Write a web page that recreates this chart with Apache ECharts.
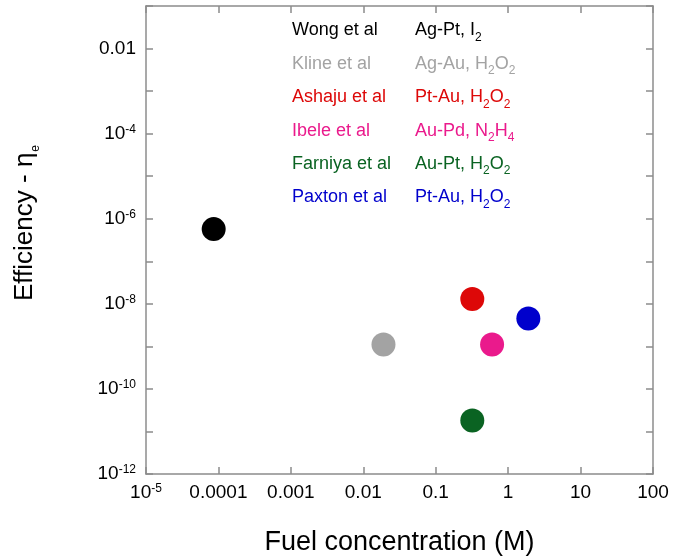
<!DOCTYPE html>
<html>
<head>
<meta charset="utf-8">
<script src="https://cdn.jsdelivr.net/npm/echarts@6/dist/echarts.min.js"></script>
<style>
html, body { margin: 0; padding: 0; background: #fff; }
#main { width: 673px; height: 558px; }
</style>
</head>
<body>
<div id="main"></div>
<script>
var authors = ['Wong et al', 'Kline et al', 'Ashaju et al', 'Ibele et al', 'Farniya et al', 'Paxton et al'];
var systems = ['Ag-Pt, I2', 'Ag-Au, H2O2', 'Pt-Au, H2O2', 'Au-Pd, N2H4', 'Au-Pt, H2O2', 'Pt-Au, H2O2'];
var fuel = [0.000086, 0.019, 0.32, 0.6, 0.32, 1.9];
var efficiency = [5.7e-7, 1.1e-9, 1.3e-8, 1.1e-9, 1.8e-11, 4.5e-9];
var colors = ['#000000', '#a3a3a3', '#dd0808', '#ea1a8c', '#0a6322', '#0000cc'];

var xTickExp = [-5, -4, -3, -2, -1, 0, 1, 2];
var xTickText = ['10^-5', '0.0001', '0.001', '0.01', '0.1', '1', '10', '100'];
var yTickExp = [-12, -10, -8, -6, -4, -2];
var yTickText = ['10^-12', '10^-10', '10^-8', '10^-6', '10^-4', '0.01'];

var FONT = 'Liberation Sans, Arial, sans-serif';
var AXIS = '#8c8c8c';

// "10^-5" -> rich text with superscript
function toRich(t) {
	var k = t.indexOf('^');
	if (k < 0) return '{b|' + t + '}';
	return '{b|' + t.slice(0, k) + '}{s|' + t.slice(k + 1) + '}';
}
// chemical formula digits as subscripts
function chem(t) {
	return t.replace(/([^0-9]+)|([0-9]+)/g, function (m, a, d) {
		return a ? '{m|' + a + '}' : '{s|' + d + '}';
	});
}

function labelFor(exps, texts) {
	return function (v) {
		var e = Math.round(Math.log10(v));
		var i = exps.indexOf(e);
		return i < 0 ? '' : toRich(texts[i]);
	};
}

var labelRich = {
	b: { fontFamily: FONT, fontSize: 19, color: '#000', lineHeight: 20, padding: [3, 0, 3, 0] },
	s: { fontFamily: FONT, fontSize: 12, color: '#000', lineHeight: 12, verticalAlign: 'top' }
};

function tickStyle() {
	return { show: true, inside: true, length: 7, lineStyle: { color: AXIS, width: 1.5 } };
}
function lineStyle() {
	return { show: true, onZero: false, lineStyle: { color: AXIS, width: 1.5 } };
}

var myChart = echarts.init(document.getElementById('main'));

var graphics = [];
for (var i = 0; i < authors.length; ++i) {
	var rowTop = 32 + 33.4 * i - 10.6;
	graphics.push({
		type: 'text', x: 292, y: rowTop,
		style: {
			text: '{m|' + authors[i] + '}', align: 'left', verticalAlign: 'top',
			rich: { m: { fontFamily: FONT, fontSize: 18, lineHeight: 22, verticalAlign: 'top', fill: colors[i] } }
		}
	});
	graphics.push({
		type: 'text', x: 415, y: rowTop,
		style: {
			text: chem(systems[i]), align: 'left', verticalAlign: 'top',
			rich: {
				m: { fontFamily: FONT, fontSize: 18, lineHeight: 22, verticalAlign: 'top', fill: colors[i] },
				s: { fontFamily: FONT, fontSize: 12, lineHeight: 12, verticalAlign: 'bottom', padding: [15, 0, 0, 0], fill: colors[i] }
			}
		}
	});
}
graphics.push({
	type: 'text', x: 27, y: 223, rotation: Math.PI / 2,
	style: {
		text: '{m|Efficiency - \u03b7}{e|e}', align: 'center', verticalAlign: 'middle',
		rich: {
			m: { fontFamily: FONT, fontSize: 26, lineHeight: 30, verticalAlign: 'top', fill: '#000' },
			e: { fontFamily: FONT, fontSize: 12, lineHeight: 12, verticalAlign: 'bottom', padding: [29, 0, 0, 1], fill: '#000' }
		}
	}
});

var option = {
	backgroundColor: '#fff',
	animation: false,
	grid: { left: 146, top: 6, width: 507, height: 468, containLabel: false, outerBoundsMode: 'none' },
	xAxis: [
		{
			type: 'log', logBase: 10, min: 1e-5, max: 100, interval: 1,
			position: 'bottom',
			name: 'Fuel concentration (M)', nameLocation: 'middle', nameGap: 55,
			nameTextStyle: { fontFamily: FONT, fontSize: 27, color: '#000' },
			axisLine: lineStyle(), axisTick: tickStyle(), splitLine: { show: false },
			axisLabel: { margin: 9, formatter: labelFor(xTickExp, xTickText), rich: labelRich }
		},
		{
			type: 'log', logBase: 10, min: 1e-5, max: 100, interval: 1,
			position: 'top',
			axisLine: lineStyle(), axisTick: tickStyle(), splitLine: { show: false },
			axisLabel: { show: false }
		}
	],
	yAxis: [
		{
			type: 'log', logBase: 10, min: 1e-12, max: 0.1, interval: 1,
			position: 'left',
			axisLine: lineStyle(), axisTick: tickStyle(), splitLine: { show: false },
			axisLabel: { margin: 10, formatter: labelFor(yTickExp, yTickText), rich: labelRich }
		},
		{
			type: 'log', logBase: 10, min: 1e-12, max: 0.1, interval: 1,
			position: 'right',
			axisLine: lineStyle(), axisTick: tickStyle(), splitLine: { show: false },
			axisLabel: { show: false }
		}
	],
	graphic: graphics,
	series: authors.map(function (a, i) {
		return {
			name: a,
			type: 'scatter',
			xAxisIndex: 0,
			yAxisIndex: 0,
			symbolSize: 24,
			data: [[fuel[i], efficiency[i]]],
			itemStyle: { color: colors[i], opacity: 1 }
		};
	})
};

myChart.setOption(option);
</script>
</body>
</html>
